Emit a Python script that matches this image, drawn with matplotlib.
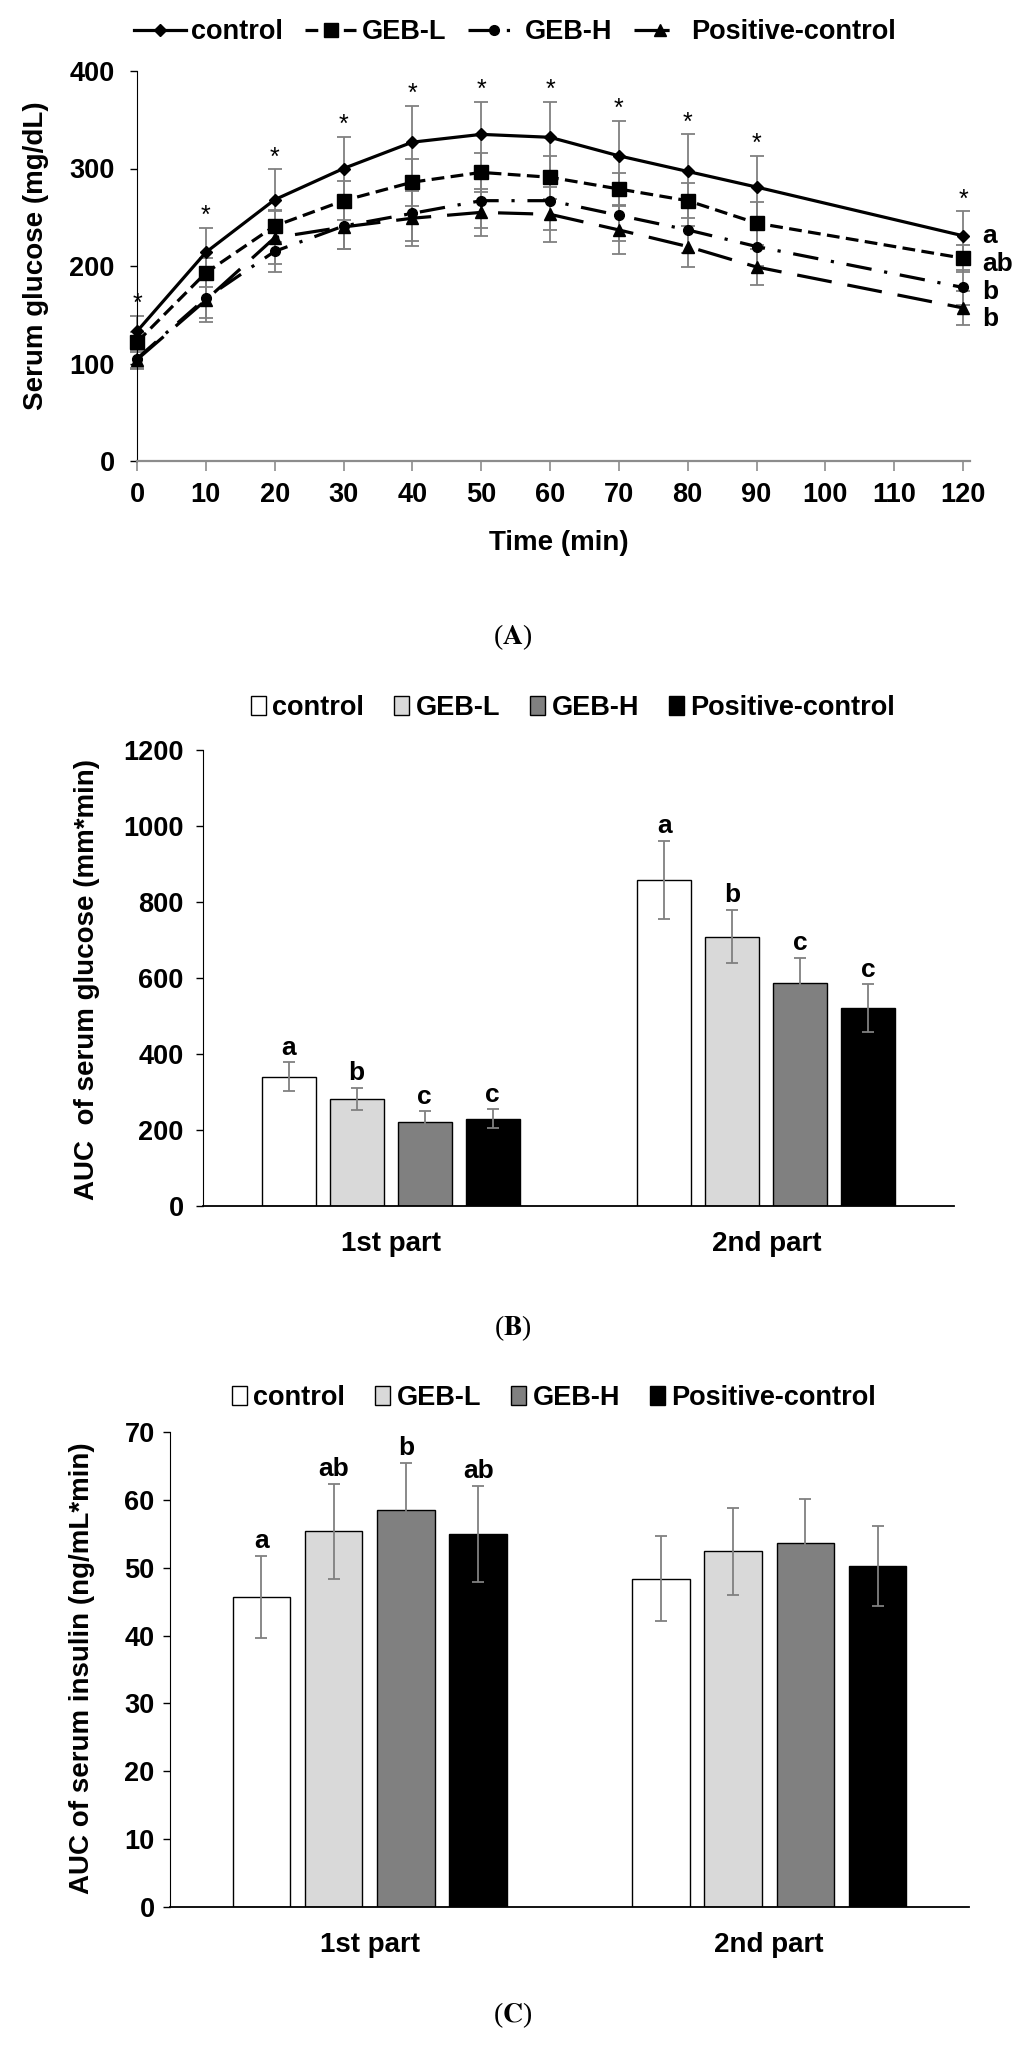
import matplotlib
matplotlib.use("Agg")
import matplotlib.pyplot as plt
from matplotlib.patches import Patch

plt.rcParams['font.family'] = ['Liberation Sans', 'DejaVu Sans']
plt.rcParams['font.weight'] = 'bold'
plt.rcParams['mathtext.fontset'] = 'stix'

# Panel A: serum glucose over time
time = [0, 10, 20, 30, 40, 50, 60, 70, 80, 90, 120]
groups = ["control", "GEB-L", "GEB-H", "Positive-control"]
glucose = {
    "control":          [133, 214, 268, 300, 327, 335, 332, 313, 297, 281, 231],
    "GEB-L":            [122, 193, 241, 267, 286, 296, 291, 279, 267, 244, 208],
    "GEB-H":            [105, 167, 215, 241, 254, 267, 267, 252, 237, 220, 178],
    "Positive-control": [104, 165, 229, 240, 249, 255, 253, 237, 220, 199, 157],
}
glucose_sd = {
    "control":          [16, 25, 31, 32, 37, 33, 36, 36, 38, 32, 25],
    "GEB-L":            [10, 15, 16, 20, 24, 20, 22, 16, 18, 22, 14],
    "GEB-H":            [10, 20, 21, 24, 28, 28, 30, 26, 24, 20, 18],
    "Positive-control": [10, 22, 27, 23, 28, 24, 28, 25, 21, 18, 17],
}
end_letters = ["a", "ab", "b", "b"]

# Panel B: AUC of serum glucose
parts = ["1st part", "2nd part"]
auc_glucose = {
    "control":          [340, 858],
    "GEB-L":            [281, 709],
    "GEB-H":            [221, 587],
    "Positive-control": [230, 520],
}
auc_glucose_sd = {
    "control":          [38, 102],
    "GEB-L":            [29, 70],
    "GEB-H":            [28, 66],
    "Positive-control": [24, 63],
}
auc_glucose_letters = {
    "control": ["a", "a"], "GEB-L": ["b", "b"],
    "GEB-H": ["c", "c"], "Positive-control": ["c", "c"],
}

# Panel C: AUC of serum insulin
auc_insulin = {
    "control":          [45.7, 48.4],
    "GEB-L":            [55.4, 52.4],
    "GEB-H":            [58.5, 53.7],
    "Positive-control": [55.0, 50.2],
}
auc_insulin_sd = {
    "control":          [6.1, 6.3],
    "GEB-L":            [7.0, 6.4],
    "GEB-H":            [7.0, 6.4],
    "Positive-control": [7.1, 5.9],
}
auc_insulin_letters = {
    "control": ["a", ""], "GEB-L": ["ab", ""],
    "GEB-H": ["b", ""], "Positive-control": ["ab", ""],
}

W, H = 1024, 2045
fig = plt.figure(figsize=(W / 100, H / 100), dpi=100)


def axes_px(left, right, top, bottom):
    return fig.add_axes([left / W, 1 - bottom / H, (right - left) / W, (bottom - top) / H])


line_styles = {
    "control": dict(ls='-', marker='D', ms=6),
    "GEB-L": dict(ls=(0, (4, 2)), marker='s', ms=10),
    "GEB-H": dict(ls=(0, (8, 4, 1, 4)), marker='o', ms=7),
    "Positive-control": dict(ls=(0, (11, 5)), marker='^', ms=9),
}
bar_colors = {"control": "white", "GEB-L": "#d9d9d9", "GEB-H": "#808080",
              "Positive-control": "black"}
err_color = "#808080"

# ---------- (A) ----------
axA = axes_px(137, 963, 71, 461)
handles = []
for g in groups:
    axA.errorbar(time, glucose[g], yerr=glucose_sd[g], fmt='none', ecolor=err_color,
                 elinewidth=1.3, capsize=5, capthick=1.3, zorder=2, clip_on=False)
    ln, = axA.plot(time, glucose[g], color='black', lw=2.3, mfc='black', mec='black',
                   zorder=3, clip_on=False, **line_styles[g])
    handles.append(ln)

for t, v, s in zip(time, glucose["control"], glucose_sd["control"]):
    axA.annotate("*", (t, v + s), xytext=(0, 0), textcoords='offset points',
                 ha='center', va='bottom', fontsize=18, fontweight='normal')

letter_offsets = [0, -4, -3, -8]
for g, lt, off in zip(groups, end_letters, letter_offsets):
    axA.annotate(lt, (120, glucose[g][-1]), xytext=(14, off), textcoords='offset points',
                 ha='left', va='center', fontsize=19)

axA.set_xlim(0, 120)
axA.set_ylim(0, 400)
axA.set_xticks(range(0, 121, 10))
axA.set_yticks(range(0, 401, 100))
axA.spines['top'].set_visible(False)
axA.spines['right'].set_visible(False)
axA.spines['bottom'].set_color('#8c8c8c')
axA.spines['bottom'].set_linewidth(1.6)
axA.spines['bottom'].set_bounds(0, 121)
axA.tick_params(axis='x', direction='out', length=7, width=1.2, color='#8c8c8c',
                labelsize=19.5, pad=8)
axA.tick_params(axis='y', direction='out', length=5, width=1, labelsize=19.5, pad=11)
fig.text(559 / W, 1 - 543 / H, "Time (min)", ha='center', va='center', fontsize=20)
fig.text(36 / W, 1 - 256 / H, "Serum glucose (mg/dL)", rotation=90,
         ha='center', va='center', fontsize=20)
fig.legend(handles, groups, loc='center', bbox_to_anchor=(515 / W, 1 - 32 / H), ncol=4,
           frameon=False, fontsize=19.5, handlelength=1.9, handletextpad=0.2,
           columnspacing=0.8, numpoints=1)


def bar_panel(ax, values, sds, letters, ymax, ystep, ylabel, ylabel_xy, legend_xy, ypad):
    step, width = 0.181, 0.144
    for i, g in enumerate(groups):
        xs = [k + (i - 1.5) * step for k in range(len(parts))]
        ax.bar(xs, values[g], width=width, color=bar_colors[g], edgecolor='black',
               linewidth=1.0, zorder=2)
        ax.errorbar(xs, values[g], yerr=sds[g], fmt='none', ecolor=err_color,
                    elinewidth=1.3, capsize=4, capthick=1.3, zorder=3)
        for x, v, s, lt in zip(xs, values[g], sds[g], letters[g]):
            if lt:
                ax.annotate(lt, (x, v + s), xytext=(0, 2), textcoords='offset points',
                            ha='center', va='bottom', fontsize=19)
    ax.set_xlim(-0.5, 1.5)
    ax.set_ylim(0, ymax)
    ax.set_yticks(range(0, ymax + 1, ystep))
    ax.set_xticks(range(len(parts)))
    ax.set_xticklabels(parts)
    ax.spines['top'].set_visible(False)
    ax.spines['right'].set_visible(False)
    ax.spines['bottom'].set_linewidth(1.3)
    ax.tick_params(axis='x', length=0, labelsize=20, pad=18)
    ax.tick_params(axis='y', direction='out', length=5, width=1, labelsize=19.5, pad=ypad)
    fig.text(ylabel_xy[0] / W, 1 - ylabel_xy[1] / H, ylabel, rotation=90,
             ha='center', va='center', fontsize=20)
    patches = [Patch(facecolor=bar_colors[g], edgecolor='black', linewidth=1.0) for g in groups]
    fig.legend(patches, groups, loc='center', bbox_to_anchor=(legend_xy[0] / W, 1 - legend_xy[1] / H),
               ncol=4, frameon=False, fontsize=19.5, handlelength=0.55, handleheight=0.75,
               handletextpad=0.25, columnspacing=1.1)


# ---------- (B) ----------
axB = axes_px(203, 954, 750, 1206)
bar_panel(axB, auc_glucose, auc_glucose_sd, auc_glucose_letters, 1200, 200,
          "AUC  of serum glucose (mm*min)", (87, 980), (573, 708), 9)

# ---------- (C) ----------
axC = axes_px(170, 969, 1432, 1907)
bar_panel(axC, auc_insulin, auc_insulin_sd, auc_insulin_letters, 70, 10,
          "AUC of serum insulin (ng/mL*min)", (82, 1668), (554, 1398), 6)

# panel captions
for lab, y in [("A", 637), ("B", 1328), ("C", 2015)]:
    fig.text(513 / W, 1 - y / H, "($\\mathbf{%s}$)" % lab, ha='center', va='center',
             fontsize=20, fontweight='normal', family='Liberation Serif')

fig.savefig("out.png", dpi=100)
